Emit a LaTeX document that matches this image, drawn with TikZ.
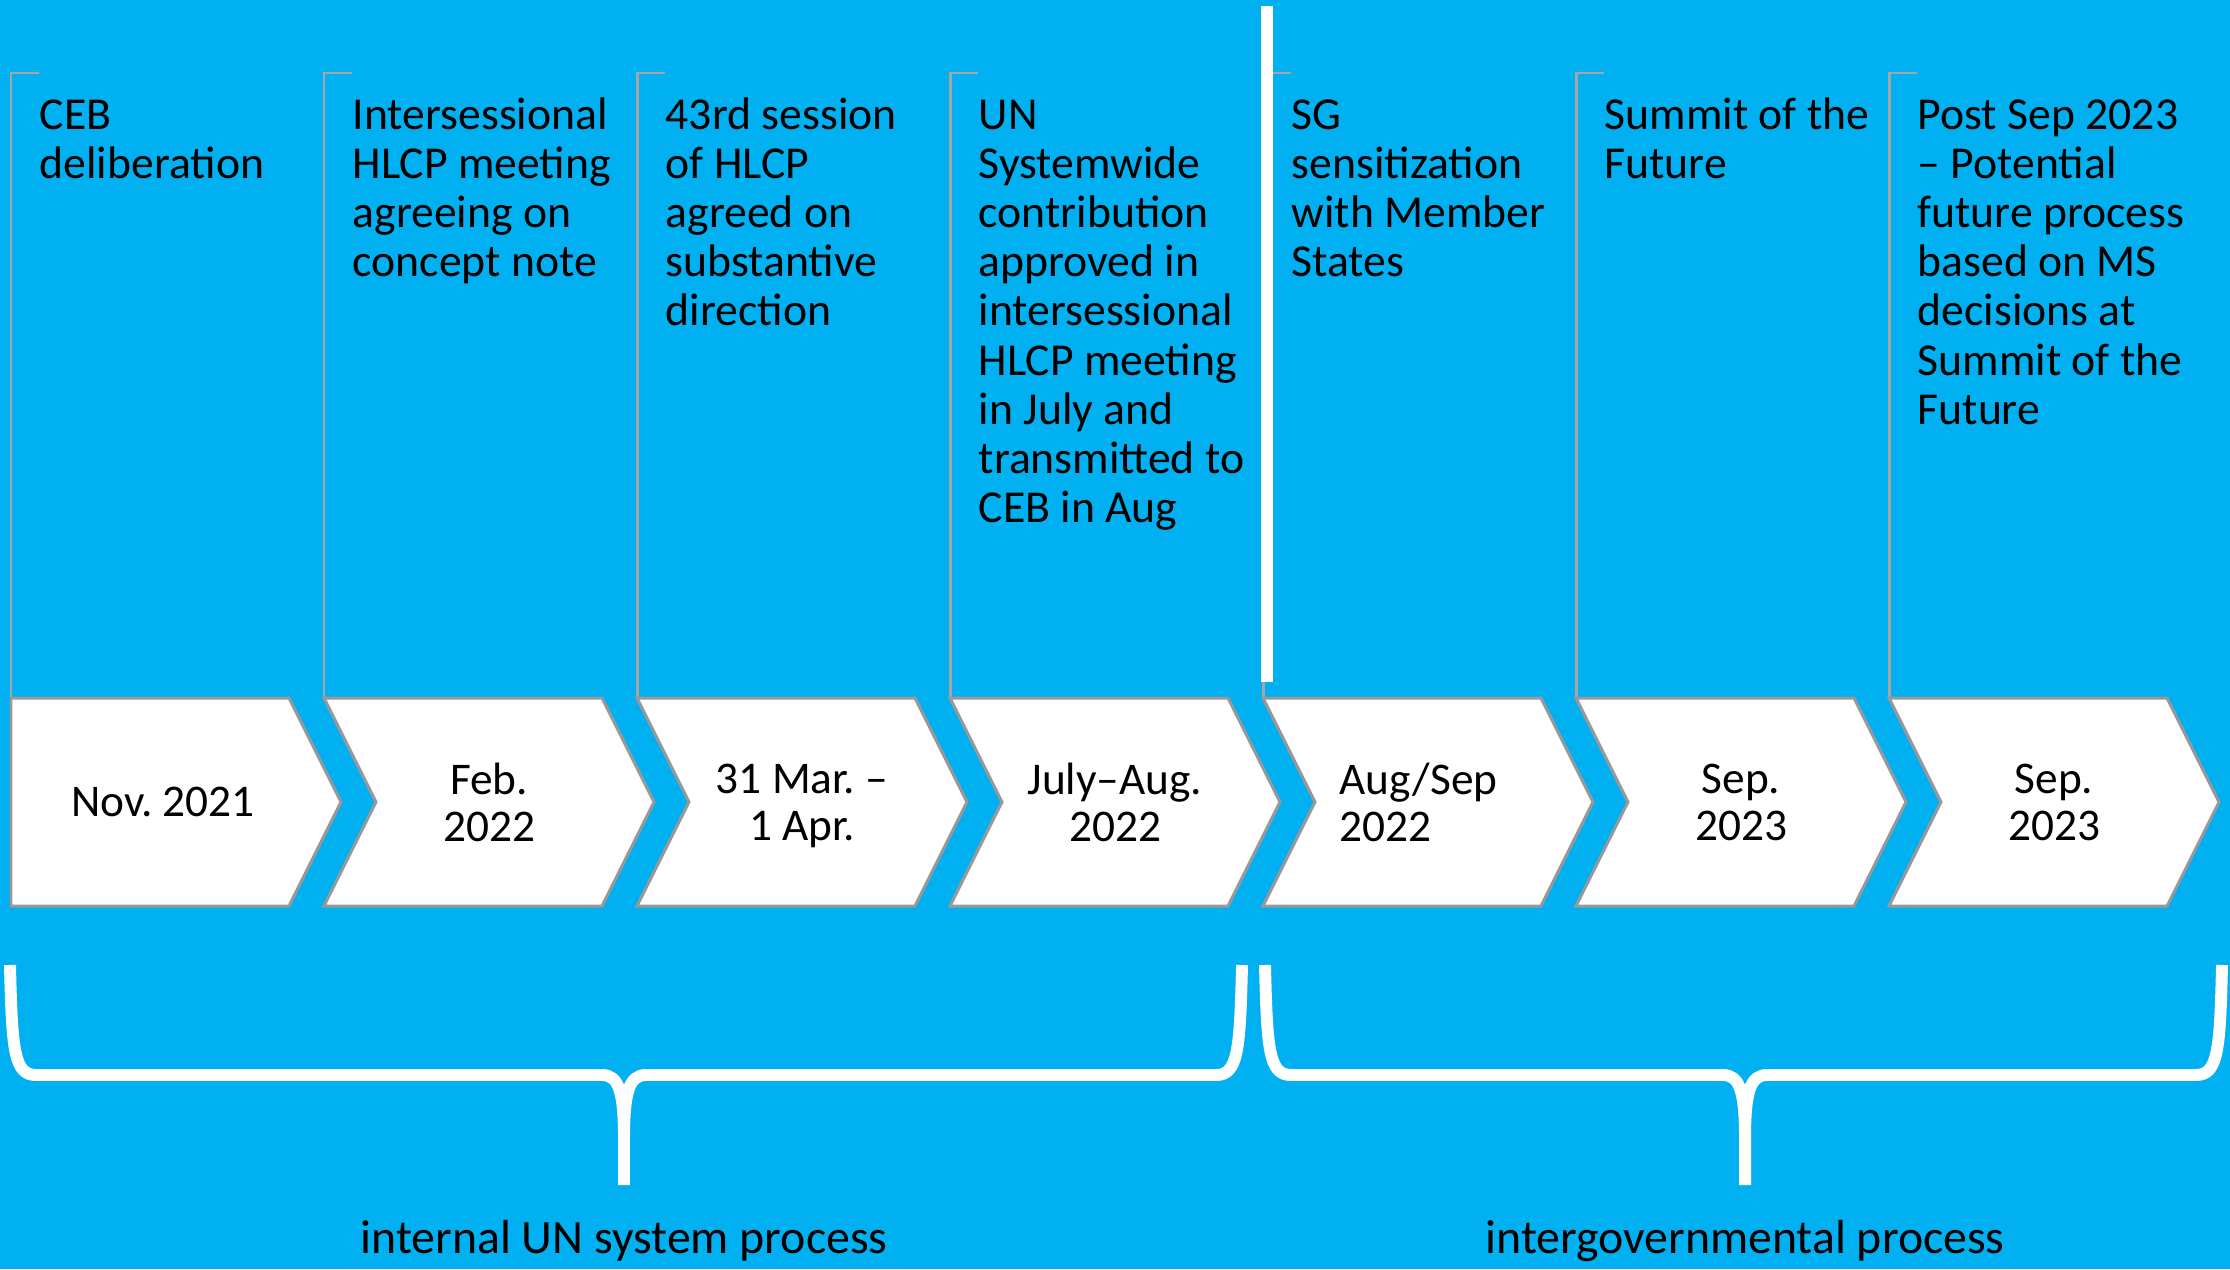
\documentclass[tikz,border=0pt]{standalone}
\usepackage{fontspec}
\setmainfont{Carlito}
\usepackage{xcolor}
\usepackage{tikz}
\usetikzlibrary{calc}

\definecolor{unblue}{HTML}{00B0F0}
\definecolor{tickgray}{HTML}{A6A6A6}
\definecolor{edgegray}{HTML}{999999}

\tikzset{
    bracket/.style={draw=tickgray, line width=0.85pt},
    chevron/.style={fill=white, draw=edgegray, line width=0.85pt},
    stepnote/.style={anchor=north west, inner sep=0pt, align=left, font=\fontsize{13}{14}\selectfont},
    datebox/.style={inner sep=0pt, align=center, text depth=0pt, font=\fontsize{12.9}{13.4}\selectfont},
    dateleft/.style={datebox, anchor=west, align=left, xshift=-8.9mm},
    datefirst/.style={datebox, xshift=-1.3mm},
    brace/.style={draw=white, line width=3.4pt, line join=round},
    phase/.style={anchor=base, inner sep=0pt, font=\fontsize{13.6}{14}\selectfont}
}

\begin{document}
\frenchspacing
\begin{tikzpicture}[x=0.1mm, y=-0.1mm]
    \fill[unblue] (0,0) rectangle (2230,1269);
    \useasboundingbox (0,0) rectangle (2230,1269);
    % one column per step: bracket, note, chevron, date
    \foreach \i/\note/\date/\sty in {
        0/{CEB\\deliberation}/{Nov. 2021}/datefirst,
        1/{Intersessional\\HLCP meeting\\agreeing on\\concept note}/{Feb.\\2022}/datebox,
        2/{43rd session\\of HLCP\\agreed on\\substantive\\direction}/{31 Mar. –\\1 Apr.}/datebox,
        3/{UN\\Systemwide\\contribution\\approved in\\intersessional\\HLCP meeting\\in July and\\transmitted to\\CEB in Aug}/{July–Aug.\\2022}/datebox,
        4/{SG\\sensitization\\with Member\\States}/{Aug/Sep\\2022}/dateleft,
        5/{Summit of the\\Future}/{Sep.\\2023}/datebox,
        6/{Post Sep 2023\\– Potential\\future process\\based on MS\\decisions at\\Summit of the\\Future}/{Sep.\\2023}/datebox}{
        \pgfmathsetmacro{\x}{11+313*\i}
        \draw[bracket] (\x+28,73) -- (\x,73) -- (\x,698);
        \node[stepnote] (note\i) at (\x+28,94) {\strut\note};
        \ifnum\i=0
            \draw[chevron] (\x,698) -- (\x+278,698) -- (\x+330,802) -- (\x+278,906) -- (\x,906) -- cycle;
        \else
            \draw[chevron] (\x,698) -- (\x+278,698) -- (\x+330,802) -- (\x+278,906) -- (\x,906) -- (\x+52,802) -- cycle;
        \fi
        \node[\sty] (date\i) at (\x+165,802) {\date};
    }
    % divider between the two phases
    \fill[white] (1261,6) rectangle (1273,682);
    % braces and phase labels
    \foreach \l/\m/\r/\lab/\name in {10/624/1242/internal UN system process/internal,
                                      1265/1745/2222/intergovernmental process/intergov}{
        \draw[brace] (\l,965) .. controls (\l+2,1050) and (\l+4,1075) .. (\l+26,1075) -- (\m-22,1075)
            .. controls (\m-5,1075) and (\m,1092) .. (\m,1140) -- (\m,1185)
            (\r,965) .. controls (\r-2,1050) and (\r-4,1075) .. (\r-26,1075) -- (\m+22,1075)
            .. controls (\m+5,1075) and (\m,1092) .. (\m,1140) -- (\m,1185);
        \node[phase] (\name) at (\m,1253) {\lab};
    }
\end{tikzpicture}
\end{document}
